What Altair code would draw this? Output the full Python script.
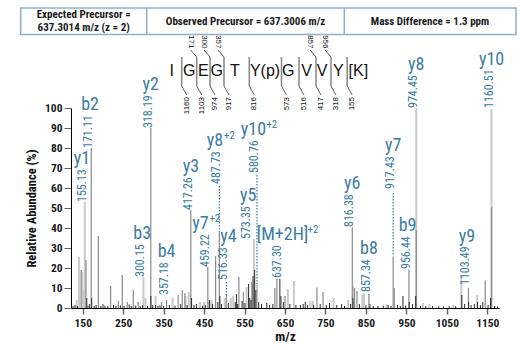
import altair as alt
import pandas as pd

# ------------------------------------------------------------------ data
# peaks (m/z, relative abundance %) grouped by the grey shade used in the figure
light_mz = [135, 141, 149, 152, 155.13, 300.15, 305, 330, 372, 404, 412, 440, 450, 464, 468,
            501, 516, 522, 555, 573.35, 580.76, 657, 672, 713, 719, 770, 806, 818, 841, 845,
            901, 974.45, 991, 1007, 1065, 1086, 1125, 1160.51]
light_int = [4, 25.5, 18, 9, 53, 15.5, 5, 6, 5, 6, 8, 3, 3, 3, 4,
             5, 5, 6, 10.5, 34.5, 11.5, 9.5, 13.5, 3.5, 3.5, 5, 4, 11, 6.5, 7.5,
             2, 100, 2.5, 2, 1.5, 16, 6.5, 99.5]

mid_mz = [146, 158, 171.11, 188.5, 219, 238, 247.8, 260, 275, 287, 318.19, 345, 357.18, 386,
          396, 402.6, 417.26, 459.22, 478.5, 487.73, 505, 536, 547, 568, 625, 630, 650, 729,
          744, 816.38, 822, 828, 857.34, 917.43, 920, 956.44, 974.45, 1103.49, 1145, 1160.51]
mid_int = [19, 24, 80, 36, 11, 3.5, 16.5, 3, 9, 3, 90, 3, 4, 6.5,
           9, 7.5, 49, 20.5, 26, 37.5, 6.5, 15.5, 8, 13, 10, 14.5, 6, 10.3,
           8, 40.5, 10, 8.5, 7, 25.7, 10, 19.3, 39, 10, 13.7, 50.5]

dark_mz = [126, 131, 137, 160, 163, 167, 172, 178, 183, 195, 200, 205, 212, 226, 232, 243,
           252, 265, 270, 281, 292, 298, 310, 318.5, 323, 330, 336, 341, 350, 364, 378, 392,
           408, 419, 425, 431, 446, 453, 463, 471, 484, 489, 493, 510, 527, 530, 533, 544,
           551, 560, 563, 566, 571, 575, 578, 585, 592, 605, 612, 620, 637.3, 640, 646, 662,
           677, 688, 695, 700, 706, 721, 737, 752, 760, 778, 790, 797, 812, 818, 834, 850,
           860, 868, 880, 893, 905, 912, 928, 935, 941.6, 948, 957, 965, 973, 985, 998,
           1015, 1030, 1042, 1056, 1072, 1087, 1094, 1104, 1110, 1118, 1126, 1133, 1139,
           1152, 1158, 1168, 1175]
dark_int = [1, 1.5, 1, 5, 1.2, 2, 5, 1, 1.5, 1, 2, 1.2, 1, 1.5, 1, 1.3,
            1, 1.8, 1, 1.2, 1, 1.5, 1, 6, 1.5, 1.5, 1, 1.3, 1, 1.5, 1.2, 2,
            1.5, 5, 1.5, 2, 1.2, 1.5, 4, 2, 3, 6, 2, 2.5, 3, 7, 2, 3.5,
            2.5, 12, 5, 4, 16, 19, 9, 3, 2, 2.5, 1.5, 2, 14.5, 6, 3, 2,
            1.5, 1.5, 2, 3, 1.5, 1.5, 2, 1.5, 2.5, 1.5, 2, 1, 2, 5, 2, 1.5,
            2, 1, 1, 1.2, 1.5, 1, 1.5, 1, 6, 1.2, 3, 2, 6, 1, 1,
            1, 0.8, 0.8, 1, 1, 6.5, 2, 3, 1.5, 2, 3, 1.5, 3,
            1.5, 5, 1, 0.8]

# annotated fragment ions
ion_names = ["y1", "b2", "b3", "y2", "b4", "y3", "y7", "y8", "y4", "y5",
             "y10", "[M+2H]", "y6", "b8", "y7", "b9", "y8", "y9", "y10"]
ion_charge = ["", "", "", "", "", "", "+2", "+2", "", "", "+2", "+2", "", "", "", "", "", "", ""]
ion_mz_text = ["155.13", "171.11", "300.15", "318.19", "357.18", "417.26", "459.22", "487.73",
               "516.33", "573.35", "580.76", "637.30", "816.38", "857.34", "917.43", "956.44",
               "974.45", "1103.49", "1160.51"]
ion_label_mz = [155.13, 171.11, 300.15, 318.19, 357.18, 417.26, 459.22, 487.73, 505, 562,
                580.76, 637.30, 816.38, 857.34, 917.43, 956.44, 974.45, 1103.49, 1160.51]
ion_name_mz = [148, 168, 297, 318.19, 357.18, 417.26, 452, 488, 510, 559,
               583, 655, 816.38, 857.34, 917.43, 953, 974.45, 1100, 1160.51]
ion_label_level = [53, 80, 15.5, 90, 6.5, 49, 20.5, 62, 14, 34.5, 67.5, 15, 40.5, 8, 59.5,
                   19.5, 100, 11.5, 100]

# dotted leaders from a label down to its peak
leader_mz = [487.73, 505, 580.76, 917.43]
leader_top = [61, 13, 66.5, 57.5]
leader_bottom = [37.5, 6.5, 11.5, 26.5]

# peptide sequence with b / y fragment masses at each cleavage site
residues = ["I", "G", "E", "G", "T", "Y(p)", "G", "V", "V", "Y", "[K]"]
b_labels = ["", "171", "300", "357", "", "", "", "857", "956", ""]
y_labels = ["1160", "1103", "974", "917", "816", "573", "516", "417", "318", "155"]

header_texts = ["Expected Precursor =", "637.3014 m/z (z = 2)",
                "Observed Precursor = 637.3006 m/z", "Mass Difference = 1.3 ppm"]

x_ticks = [150, 250, 350, 450, 550, 650, 750, 850, 950, 1050, 1150]
y_ticks = [0, 10, 20, 30, 40, 50, 60, 70, 80, 90, 100]

# ------------------------------------------------------------------ layout / style
LEFT, TOP, W, H = 71, 108, 428, 200
COND = "Roboto Condensed, Liberation Sans Narrow, Roboto, sans-serif"
SANS = "Liberation Sans, Arial, sans-serif"
TEAL = "#3b7ca3"
C_LIGHT, C_MID, C_DARK = "#c9c9c9", "#8a8a8a", "#2b2b2b"
PX_PER_MZ = W / (1179 - 121)

res_x_img = [171.7, 189.3, 203.3, 216.7, 235.0, 265.0, 288.3, 306.5, 322.0, 338.3, 358.3]
bar_x_img = [181.7, 196.7, 210.0, 224.0, 249.3, 281.5, 299.0, 316.0, 331.0, 347.2]
SEQ_Y, BAR_TOP, BAR_BOT = 71, 57, 86

xscale = alt.Scale(domain=[121, 1179], nice=False, zero=False)
yscale = alt.Scale(domain=[0, 100], nice=False)
x_axis = alt.Axis(values=x_ticks, format="d", grid=False, tickSize=6, tickWidth=1.5,
                  tickColor="#666666", domainColor="#000000", labelFont=COND,
                  labelFontSize=11.5, labelFontWeight="bold", labelColor="#1a1a1a",
                  labelPadding=3, titleFont=COND, titleFontSize=13.5, titleFontWeight="bold",
                  titlePadding=1, titleColor="#111111", labelFlush=False)
y_axis = alt.Axis(values=y_ticks, format="d", grid=False, tickSize=7, tickWidth=1,
                  tickColor="#666666", domainColor="#000000", labelFont=COND,
                  labelFontSize=11.5, labelFontWeight="bold", labelColor="#1a1a1a",
                  labelPadding=2, titleFont=COND, titleFontSize=12.5, titleFontWeight="bold",
                  titlePadding=6, titleColor="#111111")
X = alt.X("mz:Q", scale=xscale, axis=x_axis, title="m/z")
Y = alt.Y("inten:Q", scale=yscale, axis=y_axis, title="Relative Abundance (%)")


def peak_layer(mz, inten, color, width):
    df = pd.DataFrame({"mz": mz, "inten": inten})
    return alt.Chart(df).mark_rule(color=color, strokeWidth=width).encode(
        x=X, y=Y, y2=alt.datum(0))


light_layer = peak_layer(light_mz, light_int, C_LIGHT, 2)
mid_layer = peak_layer(mid_mz, mid_int, C_MID, 1.2)
dark_layer = peak_layer(dark_mz, dark_int, C_DARK, 1)

# m/z labels above peaks
lab = pd.DataFrame({"mz": ion_label_mz, "inten": ion_label_level, "txt": ion_mz_text})
num_layer = alt.Chart(lab).mark_text(
    angle=270, align="left", baseline="middle", dy=-3, font=COND, fontSize=12,
    color=TEAL).encode(x=X, y=Y, text="txt:N")

# ion names above the m/z labels (charge written as a superscript after the name)
name_level = [lv + (5.3 * len(t) + 6) / 2 for lv, t in zip(ion_label_level, ion_mz_text)]
sup_shift = [-4.5 if c else 0 for c in ion_charge]
names = pd.DataFrame({
    "mz": [m + s / PX_PER_MZ for m, s in zip(ion_name_mz, sup_shift)],
    "inten": name_level, "name": ion_names, "charge": ion_charge})
name_main = alt.Chart(names).mark_text(
    align="center", baseline="alphabetic", font=COND, fontSize=18, color=TEAL).encode(
    x=X, y=Y, text="name:N")
charged = names[names["charge"] != ""].copy()
charged["w"] = [len(n) * 8.0 + 1 for n in charged["name"]]
charged["mz"] = charged["mz"] + (charged["w"] / 2 + 0.5) / PX_PER_MZ
name_sup = alt.Chart(charged).mark_text(
    align="left", baseline="alphabetic", dy=-7, font=COND, fontSize=11, color=TEAL).encode(
    x=X, y=Y, text="charge:N")

lead = pd.DataFrame({"mz": leader_mz, "inten": leader_top, "bottom": leader_bottom})
leader_layer = alt.Chart(lead).mark_rule(
    color=TEAL, strokeWidth=1.2, strokeDash=[1.5, 1.5]).encode(
    x=X, y=Y, y2="bottom:Q")

# header box (pixel positions relative to the plot origin)
one = pd.DataFrame({"k": [0]})
box = alt.Chart(one).mark_rect(fill="white", stroke="#8fb0c8", strokeWidth=1.5).encode(
    x=alt.value(20.7 - LEFT), x2=alt.value(516 - LEFT),
    y=alt.value(8 - TOP), y2=alt.value(34.5 - TOP))
dividers = alt.Chart(pd.DataFrame({"px": [146.7 - LEFT, 344.3 - LEFT]})).mark_rule(
    color="#8fb0c8", strokeWidth=1.5).encode(
    x=alt.X("px:Q", scale=None), y=alt.value(8 - TOP), y2=alt.value(34.5 - TOP))
hdr = pd.DataFrame({"px": [83.7 - LEFT, 83.7 - LEFT, 245.5 - LEFT, 430 - LEFT],
                    "py": [14.9 - TOP, 27.9 - TOP, 21.5 - TOP, 21.5 - TOP],
                    "t": header_texts})
hdr_layer = alt.Chart(hdr).mark_text(
    font=COND, fontSize=11, fontWeight="bold", color="#1a1a1a", baseline="middle").encode(
    x=alt.X("px:Q", scale=None), y=alt.Y("py:Q", scale=None), text="t:N")

# peptide sequence
seq = pd.DataFrame({"px": [v - LEFT for v in res_x_img], "py": [SEQ_Y - TOP] * len(residues),
                    "t": residues})
seq_layer = alt.Chart(seq).mark_text(
    font=SANS, fontSize=16, color="#111111", baseline="middle").encode(
    x=alt.X("px:Q", scale=None), y=alt.Y("py:Q", scale=None), text="t:N")

bars = pd.DataFrame({"px": [v - LEFT for v in bar_x_img]})
bar_layer = alt.Chart(bars).mark_rule(color="#8c8c8c", strokeWidth=1.6).encode(
    x=alt.X("px:Q", scale=None), y=alt.value(BAR_TOP - TOP), y2=alt.value(BAR_BOT - TOP))

bot = pd.DataFrame({"x1": [v - LEFT for v in bar_x_img],
                    "x2": [v + 5 - LEFT for v in bar_x_img], "t": y_labels})
bot_diag = alt.Chart(bot).mark_rule(color="#333333", strokeWidth=0.8).encode(
    x=alt.X("x1:Q", scale=None), x2="x2:Q", y=alt.value(BAR_BOT - TOP), y2=alt.value(95 - TOP))
bot_text = alt.Chart(bot).mark_text(
    angle=270, align="right", baseline="middle", font=SANS, fontSize=8, color="#111111").encode(
    x=alt.X("x2:Q", scale=None), y=alt.value(97 - TOP), text="t:N")

top = pd.DataFrame({"x1": [v - 6 - LEFT for v in bar_x_img],
                    "x2": [v - LEFT for v in bar_x_img], "t": b_labels})
top = top[top["t"] != ""]
top_diag = alt.Chart(top).mark_rule(color="#333333", strokeWidth=0.8).encode(
    x=alt.X("x1:Q", scale=None), x2="x2:Q", y=alt.value(50 - TOP), y2=alt.value(BAR_TOP - TOP))
top_text = alt.Chart(top).mark_text(
    angle=90, align="right", baseline="middle", font=SANS, fontSize=8, color="#111111").encode(
    x=alt.X("x1:Q", scale=None), y=alt.value(48.5 - TOP), text="t:N")

chart = alt.layer(
    light_layer, mid_layer, dark_layer, leader_layer, num_layer, name_main, name_sup,
    box, dividers, hdr_layer, seq_layer, bar_layer, bot_diag, bot_text, top_diag, top_text
).properties(
    width=W, height=H,
    autosize=alt.AutoSizeParams(type="none"),
    padding={"left": LEFT, "top": TOP, "right": 520 - LEFT - W, "bottom": 350 - TOP - H},
    background="white"
).configure_view(stroke=None)

chart.save("out.html", embed_options={"renderer": "svg", "actions": False})
